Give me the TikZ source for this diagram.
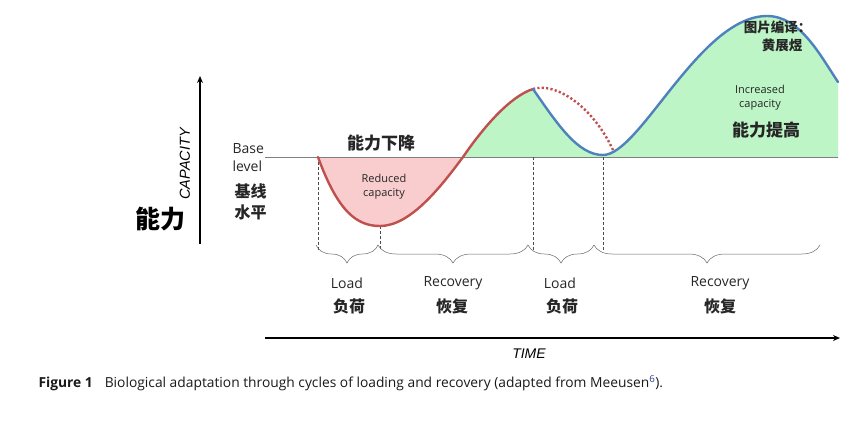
\documentclass[tikz,border=0pt]{standalone}
\usepackage{fontspec}
\setmainfont{Open Sans}
\newfontfamily\cjk{Noto Sans CJK SC}
\newfontfamily\axisfont{Liberation Sans}
\usetikzlibrary{decorations.pathreplacing,arrows.meta}
\definecolor{cred}{HTML}{C0504D}
\definecolor{cblue}{HTML}{4F81BD}
\definecolor{cpink}{HTML}{F9CDCD}
\definecolor{cgreen}{HTML}{BDF5C6}
\definecolor{cgrayline}{HTML}{7F7F7F}
\definecolor{linkblue}{HTML}{2B3A8F}
\tikzset{
  curve/.style={line width=2.4pt, line cap=round, line join=round},
  vdash/.style={densely dashed, line width=0.5pt, draw=black!70},
  bracestyle/.style={decorate, decoration={brace, mirror, amplitude=18pt}, line width=0.5pt, draw=black!60},
  lab/.style={font=\fontsize{14}{15}\selectfont, text=black!85},
  cn/.style={font=\cjk\bfseries\fontsize{16}{18}\selectfont, text=black!85},
  small/.style={font=\fontsize{11}{14}\selectfont, text=black!85, align=center},
}
\begin{document}
\begin{tikzpicture}[x=1pt,y=-1pt]
\useasboundingbox (0,0) rectangle (860,432);
% key points
\coordinate (s) at (318,157);
\coordinate (m1) at (380,226);
\coordinate (c1) at (463,157);
\coordinate (p1) at (533,89);
\coordinate (m2) at (603,155);
\coordinate (p2) at (767,16);
\coordinate (e) at (838,82);
\coordinate (eb) at (838,157);
\coordinate (d2) at (613,150);
% fills
\fill[cpink] (s) .. controls (338,212) and (357,226) .. (m1) .. controls (410,226) and (440,188) .. (c1) -- cycle;
\fill[cgreen] (c1) .. controls (485,125) and (511,96) .. (p1) .. controls (558,125) and (578,155) .. (m2) .. controls (640,155) and (700,16) .. (p2) .. controls (800,16) and (820,55) .. (e) -- (eb) -- cycle;
% baseline
\coordinate (bl0) at (265,157);
\draw[cgrayline, line width=0.9pt] (bl0) -- (eb);
% dashed verticals
\coordinate (v1) at (318,250);
\coordinate (v2) at (380,250);
\coordinate (v3a) at (533,157);
\coordinate (v3) at (533,250);
\coordinate (v4a) at (603,157);
\coordinate (v4) at (603,250);
\draw[vdash] (s) -- (v1);
\draw[vdash] (m1) -- (v2);
\draw[vdash] (v3a) -- (v3);
\draw[vdash] (v4a) -- (v4);
% curves
\draw[cred, curve] (s) .. controls (338,212) and (357,226) .. (m1) .. controls (410,226) and (440,188) .. (c1) .. controls (485,125) and (511,96) .. (p1);
\draw[cred, line width=2.4pt, dash pattern=on 2.2pt off 2.2pt] (p1) .. controls (555,82) and (592,105) .. (d2);
\draw[cblue, curve] (p1) .. controls (558,125) and (578,155) .. (m2) .. controls (640,155) and (700,16) .. (p2) .. controls (800,16) and (820,55) .. (e);
% braces
\coordinate (b0) at (316,245);
\coordinate (b1) at (378,245);
\coordinate (b2) at (528,245);
\coordinate (b3) at (594,245);
\coordinate (b4) at (820,245);
\draw[bracestyle] (b0) -- (b1);
\draw[bracestyle] (b1) -- (b2);
\draw[bracestyle] (b2) -- (b3);
\draw[bracestyle] (b3) -- (b4);
% axes
\coordinate (ya0) at (200,244);
\coordinate (ya1) at (200,76);
\draw[line width=1.6pt, -{Stealth[length=7pt,width=6pt]}] (ya0) -- (ya1);
\coordinate (xa0) at (265,338);
\coordinate (xa1) at (840,338);
\draw[line width=1.6pt, -{Stealth[length=7pt,width=6pt]}] (xa0) -- (xa1);
% texts
\node[rotate=90, font=\axisfont\itshape\fontsize{14.5}{16}\selectfont] (capt) at (185,164) {CAPACITY};
\node[font=\axisfont\itshape\fontsize{14}{16}\selectfont] (timet) at (529,354) {TIME};
\node[font=\cjk\bfseries\fontsize{25}{28}\selectfont] (nl) at (160,219) {能力};
\node[lab, font=\fontsize{14}{18}\selectfont, align=left, anchor=west] (base) at (229,158) {Base\\level};
\node[cn, anchor=west] (jx) at (231,191) {基线};
\node[cn, anchor=west] (sp) at (231,212) {水平};
\node[cn, font=\cjk\bfseries\fontsize{17}{19}\selectfont] (down) at (381,143) {能力下降};
\node[small] (red) at (384,187) {Reduced\\capacity};
\node[small] (inc) at (760,98) {Increased\\capacity};
\node[cn, font=\cjk\bfseries\fontsize{17}{19}\selectfont] (up) at (766,130) {能力提高};
\node[cn, font=\cjk\bfseries\fontsize{13.5}{15}\selectfont, anchor=east] (tr1) at (815,27) {图片编译：};
\node[cn, font=\cjk\bfseries\fontsize{13.5}{15}\selectfont, anchor=east] (tr2) at (806,45) {黄展煜};
\node[lab] (l1) at (347,283) {Load};
\node[cn] (l1c) at (349,306) {负荷};
\node[lab] (r1) at (453,283) {Recovery};
\node[cn] (r1c) at (452,306) {恢复};
\node[lab] (l2) at (560,283) {Load};
\node[cn] (l2c) at (562,306) {负荷};
\node[lab] (r2) at (720,283) {Recovery};
\node[cn] (r2c) at (720,306) {恢复};
\node[anchor=west, font=\fontsize{13.8}{16}\selectfont, text=black!90] (cap) at (35,383) {\textbf{Figure 1}\hspace{12pt}Biological adaptation through cycles of loading and recovery (adapted from Meeusen\textsuperscript{\textcolor{linkblue}{6}}).};
\end{tikzpicture}
\end{document}
